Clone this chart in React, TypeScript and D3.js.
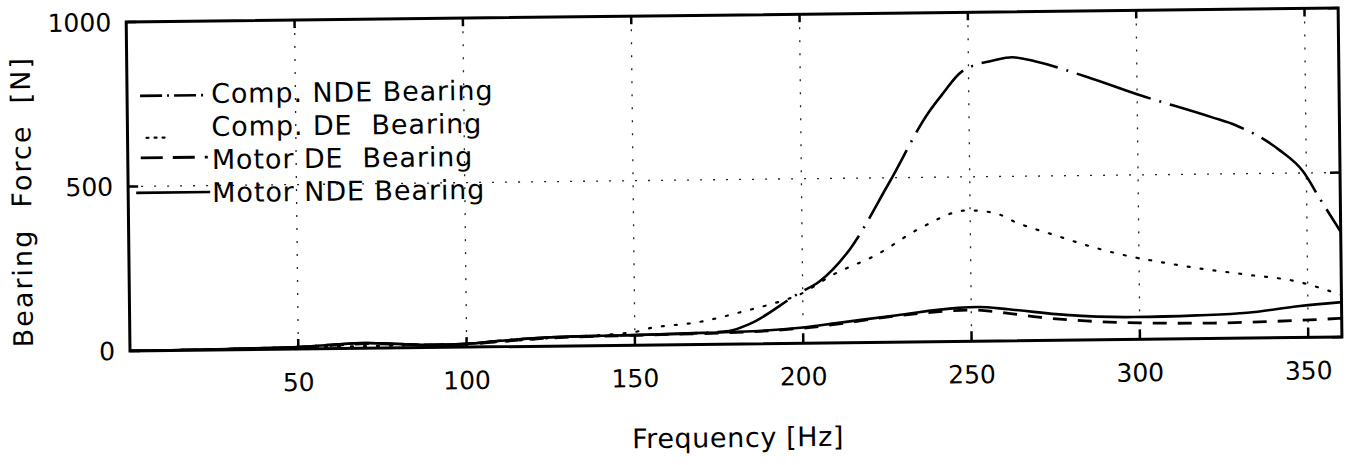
import React from 'react';
import * as d3 from 'd3';

// frequency ticks and force ticks
const freqTicks = [50, 100, 150, 200, 250, 300, 350];
const forceTicks = [0, 500, 1000];

// Comp. NDE bearing (dash-dot)
const compNdeFreq = [0, 20, 40, 50, 60, 70, 80, 90, 100, 110, 125, 150, 170, 178, 184, 199, 205, 214, 226, 238, 242, 248, 258, 263, 270, 285, 300, 322, 329, 342, 349, 354, 360];
const compNdeForce = [0, 1, 4, 6, 12, 16, 12, 8, 10, 18, 27, 31, 35, 40, 60, 153, 187, 282, 484, 697, 750, 820, 854, 862, 848, 800, 745, 673, 648, 571, 505, 420, 320];

// Comp. DE bearing (dotted)
const compDeFreq = [0, 50, 100, 125, 150, 153, 169, 184, 192, 199, 209, 222, 235, 249, 257, 264, 275, 286, 298, 305, 317, 332, 347, 358, 360];
const compDeForce = [0, 5, 10, 25, 40, 48, 68, 103, 124, 148, 207, 266, 345, 398, 390, 358, 320, 283, 251, 237, 215, 193, 170, 135, 128];

// Motor DE bearing (dashed)
const motorDeFreq = [0, 20, 40, 50, 60, 70, 80, 90, 100, 110, 125, 150, 185, 200, 228, 236, 250, 260, 270, 284, 300, 322, 340, 355, 360];
const motorDeForce = [0, 1, 3, 5, 10, 14, 11, 7, 9, 16, 25, 30, 37, 46, 80, 88, 95, 85, 71, 58, 50, 47, 50, 55, 57];

// Motor NDE bearing (solid)
const motorNdeFreq = [0, 20, 40, 50, 60, 70, 80, 90, 100, 110, 125, 150, 170, 185, 200, 210, 228, 246, 252, 261, 278, 298, 317, 332, 347, 360];
const motorNdeForce = [0, 1, 4, 6, 12, 16, 12, 8, 10, 18, 27, 31, 35, 38, 48, 60, 82, 102, 104, 96, 77, 68, 71, 77, 95, 106];

const legendLabels = ['Comp. NDE Bearing', 'Comp. DE  Bearing', 'Motor DE  Bearing', 'Motor NDE Bearing'];

const W = 1212;
const H = 329;
const FONT = '"DejaVu Sans", sans-serif';

const styles = [
  { dash: '78 9 2 9', width: 2.6, legendDash: '22 5 2 5', legendY: -8, legendX: [13, 80] },
  { dash: '2 11', width: 2.2, legendDash: '2 6', legendY: 1, legendX: [19, 40] },
  { dash: '14 11', width: 2.8, legendDash: '22 10', legendY: -12, legendX: [13, 80] },
  { dash: '', width: 2.6, legendDash: '', legendY: -10, legendX: [8, 82] },
];

export default function App() {
  const x = d3.scaleLinear().domain([0, 360]).range([0, W]);
  const y = d3.scaleLinear().domain([0, 1000]).range([H, 0]);
  const line = d3.line<[number, number]>()
    .x(d => x(d[0]))
    .y(d => y(d[1]))
    .curve(d3.curveMonotoneX);

  const series = [
    d3.zip(compNdeFreq, compNdeForce),
    d3.zip(compDeFreq, compDeForce),
    d3.zip(motorDeFreq, motorDeForce),
    d3.zip(motorNdeFreq, motorNdeForce),
  ] as [number, number][][];

  return (
    <svg width={1352} height={465} style={{ position: 'absolute', left: 0, top: 0, background: '#fff' }}>
      <g transform="rotate(-0.66, 130, 351) translate(130, 22)" fontFamily={FONT} fill="#000">
        <defs>
          <clipPath id="plot">
            <rect x={0} y={-2} width={W} height={H + 2} />
          </clipPath>
        </defs>
        {/* grid */}
        {freqTicks.map(t => (
          <line key={'g' + t} x1={x(t)} x2={x(t)} y1={0} y2={H} stroke="#222" strokeWidth={1.3} strokeDasharray="2 11" />
        ))}
        <line x1={0} x2={W} y1={y(500)} y2={y(500)} stroke="#222" strokeWidth={1.3} strokeDasharray="2 11" />

        {/* ticks */}
        {freqTicks.map(t => (
          <g key={'t' + t}>
            <line x1={x(t)} x2={x(t)} y1={H} y2={H - 10} stroke="#000" strokeWidth={2.5} />
            <line x1={x(t)} x2={x(t)} y1={0} y2={8} stroke="#000" strokeWidth={2.5} />
            <text x={x(t)} y={H + 42} fontSize={25} textAnchor="middle">{t}</text>
          </g>
        ))}
        {forceTicks.map(t => (
          <g key={'y' + t}>
            <line x1={0} x2={10} y1={y(t)} y2={y(t)} stroke="#000" strokeWidth={2.5} />
            <line x1={W} x2={W - 10} y1={y(t)} y2={y(t)} stroke="#000" strokeWidth={2.5} />
            <text x={-15} y={y(t) + 9} fontSize={25} textAnchor="end">{t}</text>
          </g>
        ))}

        {/* curves */}
        <g clipPath="url(#plot)">
          {series.map((s, i) => (
            <path key={'s' + i} d={line(s) || ''} fill="none" stroke="#000"
              strokeWidth={styles[i].width} strokeDasharray={styles[i].dash}
              strokeLinecap={i === 1 ? 'round' : 'butt'} />
          ))}
        </g>

        {/* legend */}
        {legendLabels.map((lab, i) => {
          const by = 82 + i * 33;
          const st = styles[i];
          return (
            <g key={'l' + i}>
              <line x1={st.legendX[0]} x2={st.legendX[1]} y1={by + st.legendY} y2={by + st.legendY} stroke="#000"
                strokeWidth={st.width} strokeDasharray={st.legendDash}
                strokeLinecap={i === 1 ? 'round' : 'butt'} />
              <text x={84} y={by} fontSize={27} letterSpacing={0.9} style={{ whiteSpace: 'pre' }}>{lab}</text>
            </g>
          );
        })}

        {/* frame */}
        <rect x={0} y={0} width={W} height={H} fill="none" stroke="#000" strokeWidth={3} />

        {/* axis titles */}
        <text x={607} y={H + 103} fontSize={27} letterSpacing={0.6} textAnchor="middle">Frequency [Hz]</text>
        <text transform={`translate(-97, ${H / 2 + 14}) rotate(-90)`} fontSize={27} letterSpacing={2}
          textAnchor="middle" style={{ whiteSpace: 'pre' }}>{'Bearing  Force  [N]'}</text>
      </g>
    </svg>
  );
}
